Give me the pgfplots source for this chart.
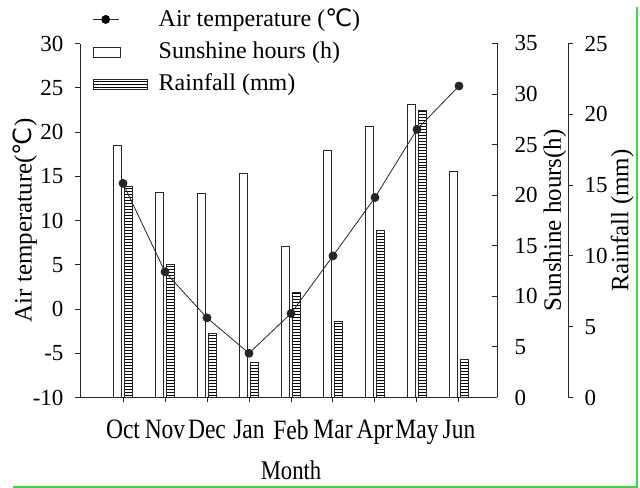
\documentclass[border=0pt]{standalone}
\usepackage{fontspec}
\setmainfont{Liberation Serif}
\newfontfamily\symfont{DejaVu Sans}
\newfontfamily\condfont[FakeStretch=0.84]{Liberation Serif}
\usepackage{pgfplots}
\usepackage{pgfplotstable}
\pgfplotsset{compat=1.18}
\usetikzlibrary{patterns}
\definecolor{frame}{RGB}{60,215,60}
\newcommand{\degC}{{\symfont ℃}}
\newcommand{\labelfont}{\fontsize{25bp}{29bp}\selectfont}

% month index, air temperature, sunshine hours, rainfall
\pgfplotstableread{
x temp sun rain
0 14.2 24.9 14.9
1 4.2 20.3 9.4
2 -1.0 20.2 4.5
3 -5.0 22.2 2.5
4 -0.5 14.9 7.4
5 6.0 24.4 5.4
6 12.6 26.8 11.8
7 20.3 29.0 20.3
8 25.2 22.4 2.7
}\climate

\pgfplotsset{
  base/.style={
    scale only axis,
    at={(80bp,90.5bp)},
    height=354bp,
    axis line style={black!85, line width=1bp},
    major tick length=5bp,
    every tick/.style={black!85, line width=1bp},
    /pgf/number format/assume math mode=true,
    yticklabel style={font=\fontsize{23bp}{27bp}\selectfont},
  },
}

\begin{document}
\fontsize{22bp}{26bp}\selectfont
\begin{tikzpicture}
\useasboundingbox (0,0) rectangle (640bp,488bp);

% sunshine hours
\begin{axis}[base,
    width=417bp, xmin=-1.024, xmax=8.905,
    ymin=0, ymax=35, ytick={0,5,...,35},
    axis x line=none, axis y line*=right,
    tick align=inside,
    yticklabel style={xshift=10bp},
    every axis y label/.style={at={(axis description cs:1.139,0.5)}, rotate=90, anchor=center, font=\labelfont},
    ylabel={Sunshine hours(h)},
]
\addplot[ybar, bar width=0.2, bar shift=-0.14, draw=black!85, fill=white, line width=0.8bp]
  table[x=x, y=sun] {\climate};
\end{axis}

% rainfall
\begin{axis}[base,
    width=488bp, xmin=-1.024, xmax=10.595,
    ymin=0, ymax=25, ytick={0,5,...,25},
    axis x line=none, axis y line*=right,
    tick align=outside,
    yticklabel style={xshift=4bp},
    every axis y label/.style={at={(axis description cs:1.111,0.5)}, rotate=90, anchor=center, font=\labelfont},
    ylabel={Rainfall (mm)},
]
\addplot[ybar, bar width=0.2, bar shift=0.13, draw=black!85, pattern=horizontal lines, line width=0.8bp]
  table[x=x, y=rain] {\climate};
\end{axis}

% air temperature
\begin{axis}[base,
    width=417bp, xmin=-1.024, xmax=8.905,
    ymin=-10, ymax=30, ytick={-10,-5,...,30},
    axis x line*=bottom, axis y line*=left,
    tick align=outside,
    xtick={0,...,8},
    xticklabels={Oct,Nov,Dec,Jan,Feb,Mar,Apr,May,Jun},
    xticklabel style={yshift=-10bp, font=\condfont\fontsize{28bp}{32bp}\selectfont},
    yticklabel style={xshift=-4bp},
    every axis y label/.style={at={(axis description cs:-0.132,0.5)}, rotate=90, anchor=center, font=\labelfont},
    ylabel={Air temperature(\degC)},
    every axis x label/.style={at={(axis description cs:0.506,-0.206)}, anchor=center,
      font=\condfont\fontsize{27bp}{31bp}\selectfont},
    xlabel={Month},
    legend style={at={(axis description cs:0.029,1.104)}, anchor=north west,
      draw=none, fill=none, inner sep=0pt, row sep=8bp,
      font=\fontsize{24bp}{28bp}\selectfont,
      nodes={inner sep=2bp}},
    legend cell align=left,
]
\addplot[black!85, line width=0.8bp, mark=*, mark size=4bp,
    legend image code/.code={
      \draw[black!85, line width=0.8bp] (0bp,0bp) -- (26bp,0bp);
      \fill[black] (13bp,0bp) circle (4bp);
      \path[draw=none, fill=none] (0bp,0bp) -- (64bp,0bp);}]
  table[x=x, y=temp] {\climate};
\addlegendentry{Air temperature (\degC)}
\addlegendimage{legend image code/.code={
      \draw[black!85, line width=0.8bp, fill=white] (1bp,-5bp) rectangle (28bp,5bp);
      \path[draw=none, fill=none] (0bp,0bp) -- (64bp,0bp);}}
\addlegendentry{Sunshine hours (h)}
\addlegendimage{legend image code/.code={
      \draw[black!85, line width=0.8bp, pattern=horizontal lines] (1bp,-5bp) rectangle (55bp,5bp);
      \path[draw=none, fill=none] (0bp,0bp) -- (64bp,0bp);}}
\addlegendentry{Rainfall (mm)}
\end{axis}

\draw[frame, line width=1.5bp] (13bp,1bp) -- (637bp,1bp) -- (637bp,481bp);
\end{tikzpicture}
\end{document}
